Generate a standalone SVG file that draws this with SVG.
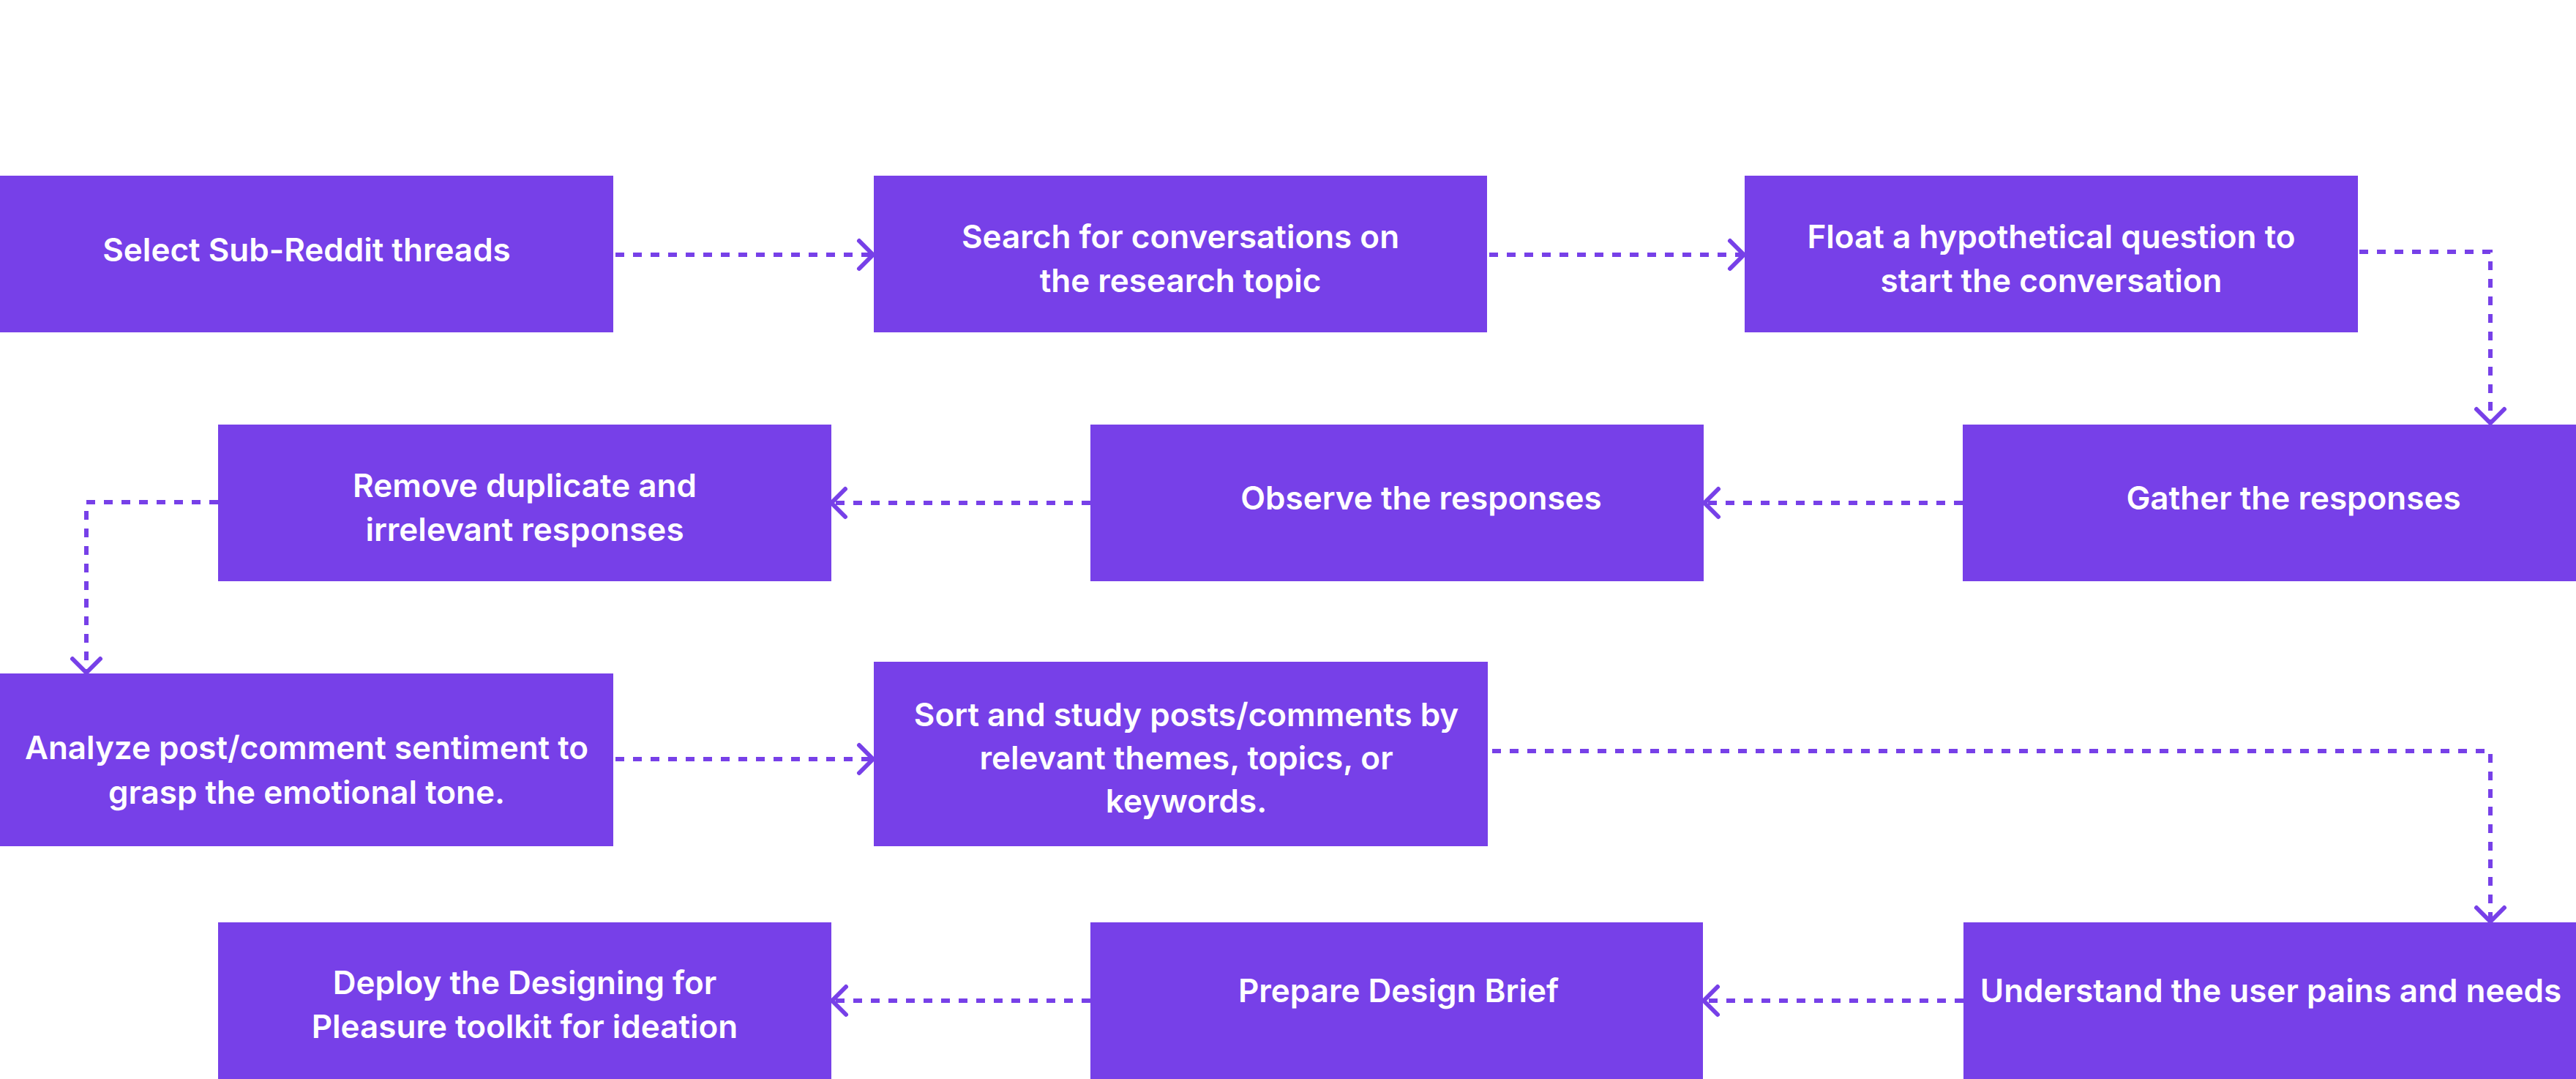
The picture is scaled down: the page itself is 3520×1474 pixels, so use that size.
<svg xmlns="http://www.w3.org/2000/svg" width="3520" height="1474" viewBox="0 0 3520 1474">
<defs>
<style>
.box{fill:#7740E8}
.lbl{font-family:Inter,"Liberation Sans",sans-serif;font-weight:600;font-size:44px;fill:#ffffff;text-anchor:middle}
.con{fill:none;stroke:#7740E8;stroke-width:6;stroke-dasharray:12 12}
</style>
<marker id="arr" markerUnits="userSpaceOnUse" markerWidth="60" markerHeight="60" refX="0" refY="0" orient="auto" viewBox="-30 -30 60 60" overflow="visible">
<path d="M-19,-19 L0,0 L-19,19" fill="none" stroke="#7740E8" stroke-width="6" stroke-linecap="round" stroke-linejoin="round"/>
</marker>
</defs>
<rect width="3520" height="1474" fill="#ffffff"/>
<g id="connectors">
<path class="con" d="M841,348 H1193" marker-end="url(#arr)"/>
<path class="con" d="M2035,348 H2383" marker-end="url(#arr)"/>
<path class="con" d="M3224,344 H3403 V578" marker-end="url(#arr)"/>
<path class="con" d="M2682,687 H2329" marker-end="url(#arr)"/>
<path class="con" d="M1490,687 H1136" marker-end="url(#arr)"/>
<path class="con" d="M298,686 H118 V919" marker-end="url(#arr)"/>
<path class="con" d="M841,1037 H1193" marker-end="url(#arr)"/>
<path class="con" d="M2039,1026 H3403 V1259" marker-end="url(#arr)"/>
<path class="con" d="M2683,1367 H2328" marker-end="url(#arr)"/>
<path class="con" d="M1490,1367 H1137" marker-end="url(#arr)"/>
</g>
<g id="n1"><rect class="box" x="0" y="240" width="838" height="214"/><text class="lbl" x="419" y="357">Select Sub-Reddit threads</text></g>
<g id="n2"><rect class="box" x="1194" y="240" width="838" height="214"/><text class="lbl" x="1613" y="339">Search for conversations on</text><text class="lbl" x="1613" y="399">the research topic</text></g>
<g id="n3"><rect class="box" x="2384" y="240" width="838" height="214"/><text class="lbl" x="2803" y="339">Float a hypothetical question to</text><text class="lbl" x="2803" y="399">start the conversation</text></g>
<g id="n4"><rect class="box" x="2682" y="580" width="838" height="214"/><text class="lbl" x="3134" y="696">Gather the responses</text></g>
<g id="n5"><rect class="box" x="1490" y="580" width="838" height="214"/><text class="lbl" x="1942" y="696">Observe the responses</text></g>
<g id="n6"><rect class="box" x="298" y="580" width="838" height="214"/><text class="lbl" x="717" y="679">Remove duplicate and</text><text class="lbl" x="717" y="739">irrelevant responses</text></g>
<g id="n7"><rect class="box" x="0" y="920" width="838" height="236"/><text class="lbl" x="419" y="1037">Analyze post/comment sentiment to</text><text class="lbl" x="419" y="1098">grasp the emotional tone.</text></g>
<g id="n8"><rect class="box" x="1194" y="904" width="839" height="252"/><text class="lbl" x="1621" y="992">Sort and study posts/comments by</text><text class="lbl" x="1621" y="1051">relevant themes, topics, or</text><text class="lbl" x="1621" y="1110">keywords.</text></g>
<g id="n9"><rect class="box" x="2683" y="1260" width="837" height="214"/><text class="lbl" x="3103" y="1369">Understand the user pains and needs</text></g>
<g id="n10"><rect class="box" x="1490" y="1260" width="837" height="214"/><text class="lbl" x="1911" y="1369">Prepare Design Brief</text></g>
<g id="n11"><rect class="box" x="298" y="1260" width="838" height="214"/><text class="lbl" x="717" y="1358">Deploy the Designing for</text><text class="lbl" x="717" y="1418">Pleasure toolkit for ideation</text></g>
</svg>
